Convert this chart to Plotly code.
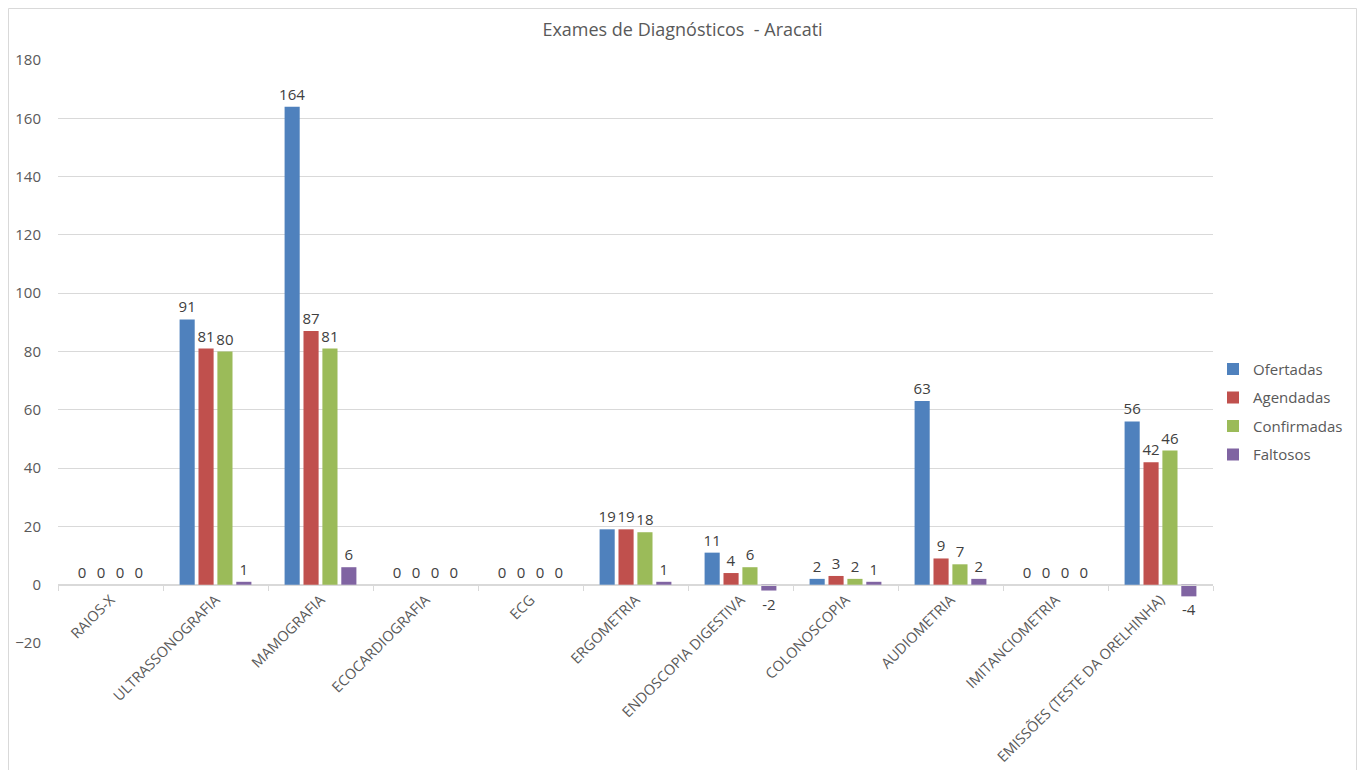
import plotly.graph_objects as go

# ---------------------------------------------------------------------------
# Data
# ---------------------------------------------------------------------------
CATEGORIES = [
    "RAIOS-X",
    "ULTRASSONOGRAFIA",
    "MAMOGRAFIA",
    "ECOCARDIOGRAFIA",
    "ECG",
    "ERGOMETRIA",
    "ENDOSCOPIA DIGESTIVA",
    "COLONOSCOPIA",
    "AUDIOMETRIA",
    "IMITANCIOMETRIA",
    "EMISSÕES (TESTE DA ORELHINHA)",
]
OFERTADAS = [0, 91, 164, 0, 0, 19, 11, 2, 63, 0, 56]
AGENDADAS = [0, 81, 87, 0, 0, 19, 4, 3, 9, 0, 42]
CONFIRMADAS = [0, 80, 81, 0, 0, 18, 6, 2, 7, 0, 46]
FALTOSOS = [0, 1, 6, 0, 0, 1, -2, 1, 2, 0, -4]

Y_TICKS = [-20, 0, 20, 40, 60, 80, 100, 120, 140, 160, 180]

# ---------------------------------------------------------------------------
# Styling
# ---------------------------------------------------------------------------
FONT = "'Open Sans', Calibri, sans-serif"
TEXT_COLOR = "#595959"
LABEL_COLOR = "#404040"
GRID_COLOR = "#d9d9d9"

# figure size leaves room for the page's default 8px body margin
FIG_W, FIG_H = 1349, 762
M_L, M_R, M_T, M_B = 50, 144, 52, 127
PLOT_W = FIG_W - M_L - M_R
PLOT_H = FIG_H - M_T - M_B

SERIES = [
    ("Ofertadas", OFERTADAS, "#4f81bd"),
    ("Agendadas", AGENDADAS, "#c0504d"),
    ("Confirmadas", CONFIRMADAS, "#9bbb59"),
    ("Faltosos", FALTOSOS, "#8064a2"),
]

fig = go.Figure()
for name, values, color in SERIES:
    fig.add_trace(
        go.Bar(
            x=CATEGORIES,
            y=values,
            name=name,
            legendgroup=name,
            marker=dict(color=color, line=dict(width=0)),
            text=[str(v) for v in values],
            textposition="outside",
            constraintext="none",
            textfont=dict(family=FONT, size=15, color=LABEL_COLOR),
            cliponaxis=False,
        )
    )

fig.update_layout(
    width=FIG_W,
    height=FIG_H,
    paper_bgcolor="white",
    plot_bgcolor="white",
    barmode="group",
    bargap=0.28,
    bargroupgap=0.2,
    font=dict(family=FONT, color=TEXT_COLOR),
    margin=dict(l=M_L, r=M_R, t=M_T, b=M_B, autoexpand=False),
    title=dict(
        text="Exames de Diagnósticos  - Aracati",
        x=0.5,
        xref="container",
        xanchor="center",
        y=0.971,
        yanchor="middle",
        font=dict(family=FONT, size=18, color=TEXT_COLOR),
    ),
    legend=dict(
        x=1.0,
        xanchor="left",
        y=0.3966,
        yanchor="middle",
        font=dict(family=FONT, size=15, color=TEXT_COLOR),
        tracegroupgap=6,
        itemwidth=30,
    ),
)

fig.update_yaxes(
    range=[-20, 180],
    tickvals=Y_TICKS,
    showgrid=True,
    gridcolor=GRID_COLOR,
    gridwidth=1,
    zeroline=False,
    showline=False,
    ticks="",
    tickfont=dict(family=FONT, size=15, color=TEXT_COLOR),
    ticklabelstandoff=16,
)

# category axis crosses at y = 0, like the original spreadsheet chart
fig.update_xaxes(
    anchor="free",
    position=0.1,
    showline=True,
    linecolor=GRID_COLOR,
    linewidth=1,
    showgrid=False,
    ticks="outside",
    tickson="boundaries",
    ticklen=5,
    tickcolor=GRID_COLOR,
    tickangle=-45,
    tickfont=dict(family=FONT, size=14.5, color=TEXT_COLOR),
)

# chart area border
fig.add_shape(
    type="rect",
    xref="paper",
    yref="paper",
    x0=(0.5 - M_L) / PLOT_W,
    x1=(FIG_W - 0.5 - M_L) / PLOT_W,
    y0=(PLOT_H + M_T - 800) / PLOT_H,
    y1=(PLOT_H + M_T - 0.5) / PLOT_H,
    line=dict(color=GRID_COLOR, width=1),
    layer="below",
)

fig.write_html("out.html")
